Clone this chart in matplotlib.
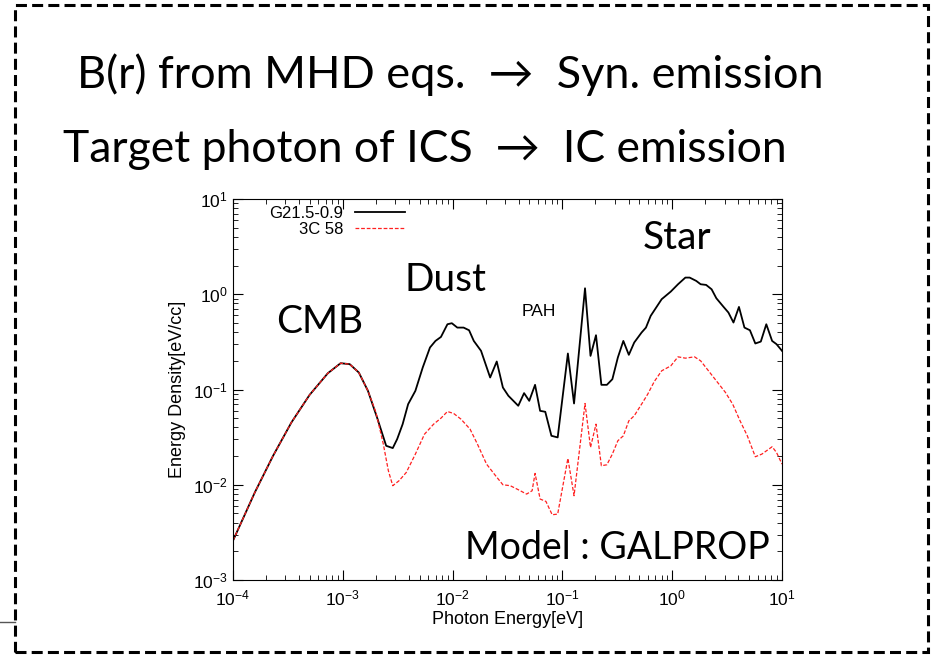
import numpy as np
import matplotlib
matplotlib.use("Agg")
import matplotlib.pyplot as plt
from matplotlib.patches import Rectangle
from matplotlib.lines import Line2D

# values, stored as log10 (energy in eV, density in eV/cc)
cmb_logE = [-4.000, -3.801, -3.635, -3.468, -3.302, -3.136, -3.020, -2.937, -2.854, -2.771]
cmb_logU = [-2.587, -2.080, -1.696, -1.346, -1.056, -0.829, -0.724, -0.734, -0.822, -1.014]

g21_logE = [-2.688, -2.605, -2.545, -2.505, -2.455, -2.405, -2.339, -2.272, -2.206, -2.156,
            -2.106, -2.047, -2.007, -1.957, -1.900, -1.850, -1.807, -1.741, -1.658, -1.598,
            -1.542, -1.492, -1.402, -1.349, -1.302, -1.249, -1.203, -1.156, -1.100, -1.043,
            -0.950, -0.894, -0.794, -0.744, -0.694, -0.645, -0.595, -0.545, -0.495, -0.445,
            -0.395, -0.346, -0.279, -0.239, -0.196, -0.096, -0.013, 0.053, 0.120, 0.159,
            0.219, 0.259, 0.309, 0.359, 0.402, 0.468, 0.512, 0.558, 0.608, 0.658,
            0.708, 0.757, 0.807, 0.857, 0.910, 0.950, 1.000]
g21_logU = [-1.294, -1.591, -1.615, -1.521, -1.364, -1.154, -1.014, -0.769, -0.559, -0.490,
            -0.448, -0.315, -0.304, -0.350, -0.350, -0.378, -0.490, -0.594, -0.874, -0.706,
            -0.979, -1.066, -1.171, -1.038, -1.119, -0.951, -1.224, -1.234, -1.486, -1.503,
            -0.622, -1.147, 0.063, -0.647, -0.430, -0.951, -0.951, -0.892, -0.664, -0.490,
            -0.636, -0.507, -0.402, -0.350, -0.227, -0.052, 0.028, 0.105, 0.175, 0.175,
            0.140, 0.105, 0.098, 0.052, -0.042, -0.133, -0.192, -0.297, -0.133, -0.350,
            -0.378, -0.517, -0.497, -0.315, -0.490, -0.524, -0.594]

c58_logE = [-2.698, -2.631, -2.585, -2.545, -2.488, -2.422, -2.339, -2.256, -2.173, -2.106,
            -2.047, -1.990, -1.924, -1.841, -1.774, -1.691, -1.608, -1.542, -1.475, -1.402,
            -1.326, -1.276, -1.249, -1.203, -1.150, -1.093, -1.043, -0.950, -0.894, -0.794,
            -0.744, -0.694, -0.645, -0.595, -0.545, -0.495, -0.445, -0.395, -0.346, -0.279,
            -0.223, -0.163, -0.096, -0.013, 0.053, 0.120, 0.203, 0.259, 0.319, 0.402,
            0.485, 0.551, 0.618, 0.684, 0.757, 0.817, 0.910, 0.950, 1.000]
c58_logU = [-1.241, -1.573, -1.853, -2.010, -1.958, -1.871, -1.678, -1.469, -1.364, -1.301,
            -1.231, -1.252, -1.311, -1.416, -1.573, -1.783, -1.906, -2.000, -2.010, -2.052,
            -2.098, -2.063, -1.881, -2.150, -2.175, -2.315, -2.308, -1.724, -2.115, -1.147,
            -1.608, -1.364, -1.801, -1.790, -1.678, -1.538, -1.486, -1.329, -1.276, -1.154,
            -1.049, -0.916, -0.804, -0.752, -0.657, -0.671, -0.657, -0.699, -0.787, -0.909,
            -1.031, -1.154, -1.329, -1.486, -1.706, -1.678, -1.601, -1.661, -1.783]

labels = ["G21.5-0.9", "3C 58"]

# both sources share the CMB part
g21_E = 10 ** np.array(cmb_logE + g21_logE)
g21_U = 10 ** np.array(cmb_logU + g21_logU)
c58_E = 10 ** np.array(cmb_logE + c58_logE)
c58_U = 10 ** np.array(cmb_logU + c58_logU)

plt.rcParams['font.family'] = ['Liberation Sans', 'DejaVu Sans']
slide_font = ['Lato', 'DejaVu Sans']

fig = plt.figure(figsize=(9.34, 6.55), dpi=100)

# dashed slide frame
fig.patches.append(Rectangle((15 / 934, 3 / 655), 913 / 934, 647 / 655,
                             transform=fig.transFigure, fill=False,
                             edgecolor='black', linewidth=2.2, linestyle=(0, (3.6, 1.7))))
fig.lines.append(Line2D([0, 15 / 934], [1 - 622 / 655, 1 - 622 / 655],
                        transform=fig.transFigure, color='#555555', linewidth=1))

fig.text(450 / 934, 1 - 75 / 655, "B(r) from MHD eqs.  \u2192  Syn. emission",
         family=slide_font, fontsize=32.5, ha='center', va='center')
fig.text(425 / 934, 1 - 150 / 655, "Target photon of ICS  \u2192  IC emission",
         family=slide_font, fontsize=32, ha='center', va='center')

ax = fig.add_axes([233 / 934, 1 - 580 / 655, 549 / 934, 381 / 655])
ax.plot(g21_E, g21_U, color='black', linewidth=1.3, label=labels[0])
ax.plot(c58_E, c58_U, color='#ff2020', linewidth=0.9, linestyle=(0, (3, 1.5)), label=labels[1])

ax.set_xscale('log')
ax.set_yscale('log')
ax.set_xlim(1e-4, 10)
ax.set_ylim(1e-3, 10)
ax.set_xlabel("Photon Energy[eV]", fontsize=13, labelpad=2)
ax.set_ylabel("Energy Density[eV/cc]", fontsize=13, labelpad=5)
ax.tick_params(which='both', direction='in', top=True, right=True, labelsize=12.5)
ax.tick_params(which='major', length=7)
ax.tick_params(which='minor', length=3.5)
ax.tick_params(axis='x', pad=6)

ax.legend(loc='upper left', bbox_to_anchor=(0.054, 1.0), frameon=False, markerfirst=False,
          fontsize=12, handlelength=3.0, handletextpad=0.7, labelspacing=0.05,
          borderaxespad=0.0)

fig.text(320 / 934, 1 - 322 / 655, "CMB", family=slide_font, fontsize=28,
         ha='center', va='center')
fig.text(445 / 934, 1 - 280 / 655, "Dust", family=slide_font, fontsize=28,
         ha='center', va='center')
fig.text(539 / 934, 1 - 311 / 655, "PAH", fontsize=12.5, ha='center', va='center')
fig.text(677 / 934, 1 - 238 / 655, "Star", family=slide_font, fontsize=28,
         ha='center', va='center')
fig.text(617 / 934, 1 - 548 / 655, "Model : GALPROP", family=slide_font, fontsize=27,
         ha='center', va='center')

fig.savefig("out.png", dpi=100)
